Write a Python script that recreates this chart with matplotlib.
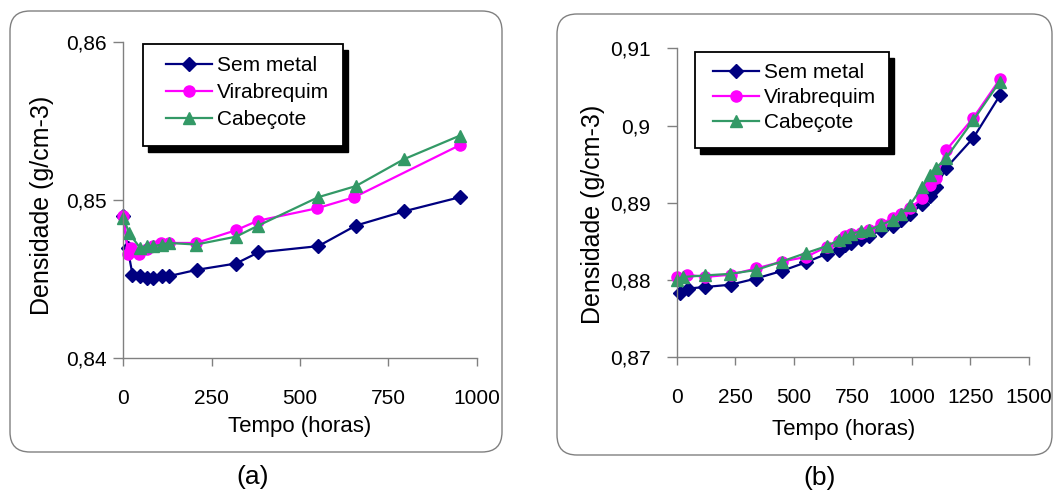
import matplotlib
matplotlib.use('Agg')
import matplotlib.pyplot as plt
import numpy as np
from matplotlib.patches import FancyBboxPatch, Rectangle
from matplotlib.transforms import IdentityTransform
from matplotlib.ticker import FuncFormatter
from matplotlib.lines import Line2D

plt.rcParams['font.family'] = ['Liberation Sans', 'DejaVu Sans']

# ---------------- data ----------------
series_names = ["Sem metal", "Virabrequim", "Cabeçote"]

# panel (a)
xa_sem = [0, 12, 26, 47, 66, 85, 110, 129, 208, 319, 382, 552, 658, 794, 953]
ya_sem = [0.8490, 0.8470, 0.8453, 0.8452, 0.8451, 0.8451, 0.8452, 0.8452,
          0.8456, 0.8460, 0.8467, 0.8471, 0.8484, 0.8493, 0.8502]
xa_vir = [0, 14, 23, 45, 66, 85, 108, 129, 206, 318, 380, 549, 654, 953]
ya_vir = [0.8490, 0.8466, 0.8470, 0.8466, 0.8469, 0.8471, 0.8473, 0.8473,
          0.8473, 0.8481, 0.8487, 0.8495, 0.8502, 0.8535]
xa_cab = [0, 17, 47, 66, 85, 110, 129, 206, 319, 382, 552, 658, 794, 953]
ya_cab = [0.8489, 0.8479, 0.8470, 0.8471, 0.8471, 0.8472, 0.8473, 0.8472,
          0.8477, 0.8484, 0.8502, 0.8509, 0.8526, 0.8541]

# panel (b)
xb_sem = [14, 49, 121, 230, 338, 450, 551, 639, 691, 717, 741, 785, 820, 868,
          920, 955, 993, 1046, 1078, 1104, 1147, 1263, 1378]
yb_sem = [0.8783, 0.8789, 0.8791, 0.8794, 0.8802, 0.8812, 0.8823, 0.8834,
          0.8839, 0.8845, 0.8848, 0.8853, 0.8857, 0.8865, 0.8870, 0.8878,
          0.8885, 0.8899, 0.8909, 0.8920, 0.8945, 0.8984, 0.9040]
xb_vir = [0, 43, 121, 230, 338, 450, 551, 639, 691, 717, 741, 785, 820, 868,
          920, 955, 993, 1046, 1078, 1104, 1147, 1263, 1376]
yb_vir = [0.8804, 0.8807, 0.8804, 0.8807, 0.8815, 0.8824, 0.8830, 0.8843,
          0.8850, 0.8857, 0.8860, 0.8861, 0.8865, 0.8873, 0.8880, 0.8886,
          0.8893, 0.8906, 0.8923, 0.8932, 0.8968, 0.9010, 0.9060]
xb_cab = [0, 28, 121, 227, 338, 447, 551, 639, 691, 717, 741, 785, 820, 868,
          920, 955, 993, 1046, 1078, 1104, 1147, 1263, 1376]
yb_cab = [0.8800, 0.8804, 0.8806, 0.8808, 0.8813, 0.8824, 0.8835, 0.8844,
          0.8852, 0.8856, 0.8860, 0.8863, 0.8865, 0.8871, 0.8878, 0.8886,
          0.8897, 0.8921, 0.8936, 0.8945, 0.8958, 0.9007, 0.9057]

xa_ticks = [0, 250, 500, 750, 1000]
ya_ticks = [0.84, 0.85, 0.86]
xb_ticks = [0, 250, 500, 750, 1000, 1250, 1500]
yb_ticks = [0.87, 0.88, 0.89, 0.90, 0.91]

xlabel = "Tempo (horas)"
ylabel = "Densidade (g/cm-3)"

# ---------------- style ----------------
W, H = 1054, 494
colors = ['#000080', '#FF00FF', '#339966']
markers = ['D', 'o', '^']
msizes = [7.5, 8, 8.5]
GRAY = '#808080'

fig = plt.figure(figsize=(W / 100, H / 100), dpi=100)

def px_axes(left, top, right, bottom):
    return fig.add_axes([left / W, 1 - bottom / H, (right - left) / W, (bottom - top) / H])

ax_a = px_axes(123.3, 42.3, 476.7, 358.3)
ax_b = px_axes(676.7, 48.3, 1029.0, 357.3)

comma = FuncFormatter(lambda v, p: f"{v:g}".replace('.', ','))

def style_axes(ax, xt, yt, xlim, ylim, ypad):
    ax.set_facecolor('none')
    for s in ['top', 'right']:
        ax.spines[s].set_visible(False)
    for s in ['left', 'bottom']:
        ax.spines[s].set_color(GRAY)
        ax.spines[s].set_linewidth(1.0)
    ax.set_xlim(*xlim)
    ax.set_ylim(*ylim)
    ax.set_xticks(xt)
    ax.set_yticks(np.round(yt, 3))
    ax.yaxis.set_major_formatter(comma)
    ax.tick_params(axis='y', direction='out', length=7, width=1, color=GRAY,
                   pad=ypad, labelsize=15)
    ax.tick_params(axis='x', direction='out', length=6, width=1, color=GRAY,
                   pad=16, labelsize=15)

def plot_series(ax, data):
    handles = []
    for (x, y), c, m, ms, name in zip(data, colors, markers, msizes, series_names):
        h, = ax.plot(x, y, color=c, marker=m, markersize=ms, markerfacecolor=c,
                     markeredgecolor=c, linewidth=1.6, clip_on=False, label=name)
        handles.append(h)
    return handles

ha = plot_series(ax_a, [(xa_sem, ya_sem), (xa_vir, ya_vir), (xa_cab, ya_cab)])
hb = plot_series(ax_b, [(xb_sem, yb_sem), (xb_vir, yb_vir), (xb_cab, yb_cab)])

style_axes(ax_a, xa_ticks, ya_ticks, (0, 1000), (0.84, 0.86), 5)
style_axes(ax_b, xb_ticks, yb_ticks, (0, 1500), (0.87, 0.91), 12)

ax_a.set_xlabel(xlabel, fontsize=16)
ax_a.set_ylabel(ylabel, fontsize=18)
ax_a.xaxis.set_label_coords(0.5, -0.2165)
ax_a.xaxis.label.set_verticalalignment('center')
ax_a.yaxis.set_label_coords(-0.23, 0.485)
ax_a.yaxis.label.set_verticalalignment('center')

ax_b.set_xlabel(xlabel, fontsize=16)
ax_b.set_ylabel(ylabel, fontsize=18)
ax_b.xaxis.set_label_coords(0.473, -0.235)
ax_b.xaxis.label.set_verticalalignment('center')
ax_b.yaxis.set_label_coords(-0.237, 0.464)
ax_b.yaxis.label.set_verticalalignment('center')

# rounded outer frames (pixel coordinates)
def rounded(x0, top, x1, bottom):
    p = FancyBboxPatch((x0, H - bottom), x1 - x0, bottom - top,
                       boxstyle='round,pad=0,rounding_size=20',
                       transform=IdentityTransform(), facecolor='none',
                       edgecolor=GRAY, linewidth=1.0, zorder=0.5)
    fig.add_artist(p)

rounded(10, 11, 502, 452)
rounded(557, 14, 1052, 455)

# legend frames with black shadow
def legend_frame(x0, top, x1, bottom, off=(5, 6)):
    sh = Rectangle((x0 + off[0], H - bottom - off[1]), x1 - x0, bottom - top,
                   transform=IdentityTransform(), facecolor='black',
                   edgecolor='black', zorder=2)
    fr = Rectangle((x0, H - bottom), x1 - x0, bottom - top,
                   transform=IdentityTransform(), facecolor='white',
                   edgecolor='black', linewidth=1.3, zorder=3)
    fig.add_artist(sh)
    fig.add_artist(fr)

legend_frame(143.3, 44.3, 343.3, 146)
legend_frame(695, 52.3, 889, 147.7)

def make_legend(handles, hx, my, spacing):
    leg = fig.legend(handles=handles, loc='center left',
                     bbox_to_anchor=(hx / W, 1 - my / H), frameon=False,
                     fontsize=15, borderpad=0, borderaxespad=0,
                     handlelength=2.2, handletextpad=0.25, labelspacing=spacing)
    leg.set_zorder(5)
    return leg

make_legend(ha, 165.7, 92.7, 0.38)
make_legend(hb, 713.3, 97.7, 0.28)

fig.text(253 / W, 1 - 477 / H, "(a)", ha='center', va='center', fontsize=19)
fig.text(820 / W, 1 - 478 / H, "(b)", ha='center', va='center', fontsize=19)

fig.savefig('out.png', dpi=100)
